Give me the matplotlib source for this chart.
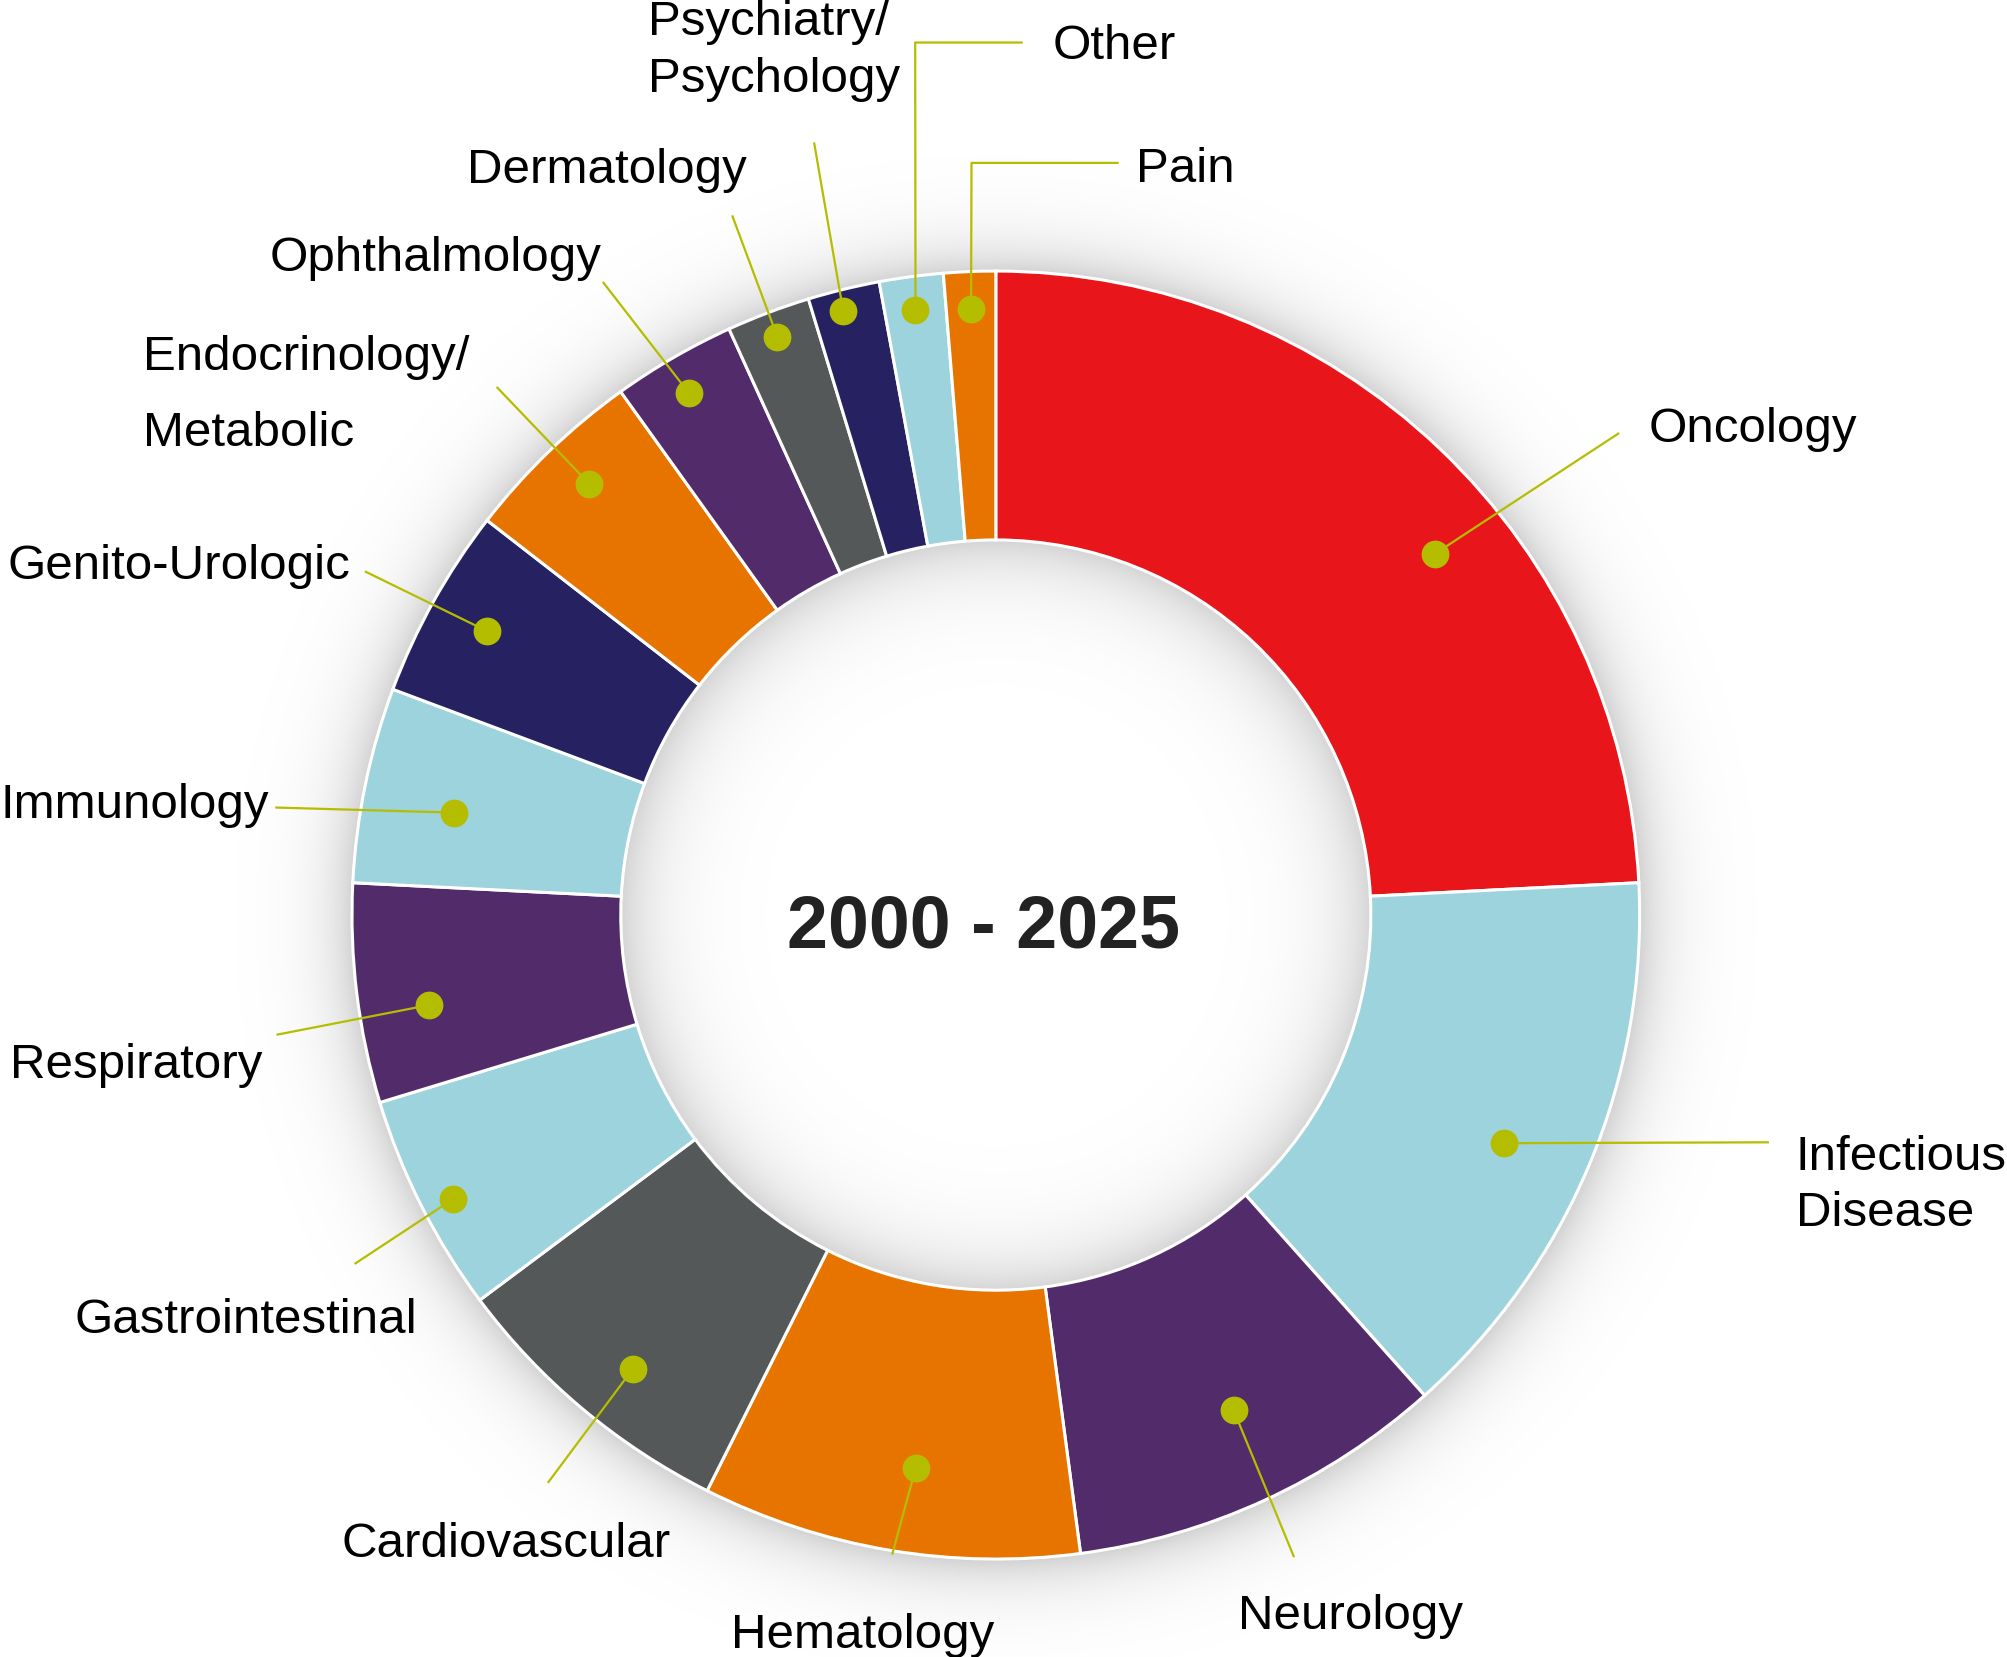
import numpy as np
import matplotlib.pyplot as plt

plt.rcParams["font.family"] = ["Liberation Sans", "DejaVu Sans"]

# therapeutic areas, clockwise from 12 o'clock (share of approvals, %)
categories = ["Oncology", "Infectious\nDisease", "Neurology", "Hematology", "Cardiovascular",
              "Gastrointestinal", "Respiratory", "Immunology", "Genito-Urologic",
              "Endocrinology/\nMetabolic", "Ophthalmology", "Dermatology",
              "Psychiatry/\nPsychology", "Other", "Pain"]
shares = [24.2, 14.2, 9.5, 9.5, 7.4, 5.5, 5.5, 4.9, 4.8, 4.6, 3.1, 2.1, 1.8, 1.6, 1.3]
colors = ["#E8161A", "#9DD3DC", "#522B6B", "#E87400", "#545859",
          "#9DD3DC", "#522B6B", "#9DD3DC", "#262262", "#E87400",
          "#522B6B", "#545859", "#262262", "#9DD3DC", "#E87400"]
center_label = "2000 - 2025"

LIME = "#B5BD00"

# layout, in a 1568 x 1295 canvas with y pointing down
W, H = 1568, 1295
CX, CY = 778, 715.5
R_OUT, R_IN = 503, 293

dot_r = [444, 435, 429, 436, 454, 479, 448, 431, 455, 463, 473, 483, 487, 477, 474]
dot_shift = [7, 1.5, -1, -1.3, -1.3, -0.8, -2, -1, 0, 0.6, -0.4, 0, -0.5, 0, 0]
leader_pts = [
    [(1265, 339)],
    [(1382, 893)],
    [(1011, 1217)],
    [(697, 1215)],
    [(428, 1159)],
    [(277, 988)],
    [(216, 809)],
    [(215, 631.5)],
    [(285, 447)],
    [(388, 303)],
    [(471, 221)],
    [(572, 169)],
    [(636, 112)],
    [(715, 34), (799, 34)],
    [(759, 128), (874, 128)],
]
text_pos = [(1288, 345), (1403, 913.5), (1055, 1272), (674, 1287), (395.5, 1216),
            (192, 1041.5), (8, 842), (210, 639), (274, 452), (112, 289),
            (470, 212), (583.5, 142.7), (506, 27.3), (822.6, 46.3), (887.3, 142)]
text_ha = ["left", "left", "center", "center", "center", "center", "left", "right",
           "right", "left", "right", "right", "left", "left", "left"]
line_pitch = [44, 44, 44, 44, 44, 44, 44, 44, 44, 59, 44, 44, 44.3, 44, 44]

fig = plt.figure(figsize=(20.07, 16.58), dpi=100)
ax = fig.add_axes([0, 0, 1, 1])

# soft glow around the ring and inside the hole
yy, xx = np.mgrid[0:H, 0:W].astype(float)
d = np.hypot(xx - CX, yy - CY)
alpha = np.zeros_like(d)
out = d > R_OUT
alpha[out] = 0.18 * np.exp(-(d[out] - R_OUT) / 24)
inn = d < R_IN
alpha[inn] = 0.17 * np.exp(-(R_IN - d[inn]) / 30)
rgba = np.zeros(d.shape + (4,))
rgba[..., 3] = alpha
ax.imshow(rgba, extent=(0, W, H, 0), zorder=0, interpolation="bilinear")

wedges, _ = ax.pie(shares, colors=colors, radius=R_OUT, center=(CX, CY),
                   startangle=270, counterclock=True, frame=True,
                   wedgeprops=dict(width=R_OUT - R_IN, edgecolor="white", linewidth=2.2))

for i, w in enumerate(wedges):
    ang = np.deg2rad((w.theta1 + w.theta2) / 2 + dot_shift[i])
    x0 = CX + dot_r[i] * np.cos(ang)
    y0 = CY + dot_r[i] * np.sin(ang)
    xs = [x0] + [p[0] for p in leader_pts[i]]
    ys = [y0] + [p[1] for p in leader_pts[i]]
    ax.plot(xs, ys, color=LIME, lw=1.6, zorder=3, solid_capstyle="butt")
    ax.plot(x0, y0, "o", ms=20, color=LIME, mec="none", zorder=4)
    tx, ty = text_pos[i]
    for k, line in enumerate(categories[i].split("\n")):
        ax.text(tx, ty + k * line_pitch[i], line, ha=text_ha[i], va="baseline",
                fontsize=35.5, color="black")

ax.text(768, 740.4, center_label, ha="center", va="baseline", fontsize=53,
        fontweight="bold", color="#222222")

ax.set_xlim(0, W)
ax.set_ylim(H, 0)
ax.set_aspect("auto")
ax.axis("off")

fig.savefig("out.png", dpi=100, facecolor="white")
